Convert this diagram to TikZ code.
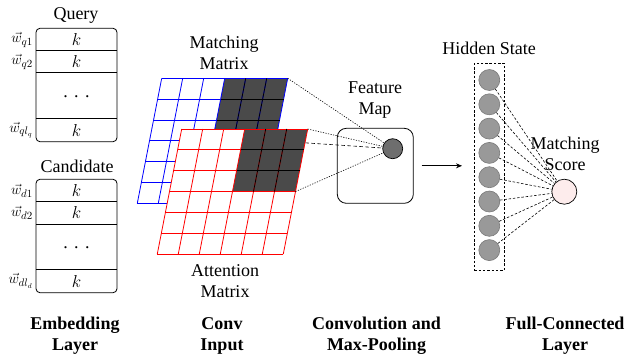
\documentclass[tikz,border=0pt]{standalone}
\usepackage{fontspec}
\setmainfont{Liberation Serif}
\usetikzlibrary{arrows.meta}
\definecolor{darkcell}{HTML}{4A4A4A}
\definecolor{featgray}{HTML}{6E6E6E}
\definecolor{hidgray}{HTML}{999999}
\definecolor{hidedge}{HTML}{7A7A7A}
\definecolor{scorefill}{HTML}{FDECEC}
\newcommand\mygrid[4]{%
  \begin{scope}[shift={(#1,#2)}]
    \fill[white] (0,0) -- (126,0) -- (101.58,125.1) -- (-24.42,125.1) -- cycle;
    \fill[darkcell] (63,0) -- (126,0) -- (113.79,62.55) -- (50.79,62.55) -- cycle;
    \foreach \j in {0,...,6} \draw[gridline,#3] ({-4.07*\j},{20.85*\j}) -- ({126-4.07*\j},{20.85*\j});
    \foreach \i in {0,...,6} \draw[gridline,#3] ({21*\i},0) -- ({21*\i-24.42},125.1);
    \foreach \i in {4,5} \draw[gridline,black] ({21*\i},0) -- ({21*\i-12.21},62.55);
    \foreach \j in {1,2} \draw[gridline,black] ({63-4.07*\j},{20.85*\j}) -- ({126-4.07*\j},{20.85*\j});
    \coordinate (#4TR) at (126,0);
    \coordinate (#4DR) at (113.79,62.55);
  \end{scope}}
\newcommand\widedots{.\hspace{6.5pt}.\hspace{6.5pt}.}
\begin{document}
\begin{tikzpicture}[x=1pt,y=-1pt,
  lbl/.style={font=\fontsize{18}{21}\selectfont, align=center, inner sep=0pt},
  blbl/.style={font=\fontsize{18}{21}\selectfont\bfseries, align=center, inner sep=0pt},
  kcell/.style={font=\fontsize{18}{21}\selectfont, inner sep=0pt},
  wlbl/.style={font=\fontsize{15}{18}\selectfont, inner sep=0pt, anchor=east},
  gridline/.style={line width=0.8pt},
  dotl/.style={line width=0.6pt, dash pattern=on 1.2pt off 1.4pt},
  dashl/.style={line width=0.6pt, dash pattern=on 3.5pt off 2.5pt},
  hid/.style={circle, fill=hidgray, draw=hidedge, line width=0.6pt, minimum size=21pt, inner sep=0pt},
  hdash/.style={line width=0.6pt, dash pattern=on 2.5pt off 1.8pt}]
\useasboundingbox (0,0) rectangle (627,357);

% Embedding layer: query
\node[lbl] (qtitle) at (76,15) {Query};
\draw[line width=0.8pt, rounded corners=4pt] (36,28.3) rectangle (117,141.7);
\draw[line width=0.8pt] (36,50) -- (117,50) (36,72.7) -- (117,72.7) (36,118.3) -- (117,118.3);
\node[kcell] (qk1) at (76.5,39) {$k$};
\node[kcell] (qk2) at (76.5,61.3) {$k$};
\node[kcell] (qdots) at (76.5,97) {\widedots};
\node[kcell] (qk3) at (76.5,130) {$k$};
\node[wlbl] (wq1) at (33,40) {$\vec{w}_{q1}$};
\node[wlbl] (wq2) at (33,62) {$\vec{w}_{q2}$};
\node[wlbl] (wq3) at (33,130) {$\vec{w}_{ql_q}$};

% Embedding layer: candidate
\node[lbl] (ctitle) at (77,166) {Candidate};
\draw[line width=0.8pt, rounded corners=4pt] (36,179.3) rectangle (117,292.7);
\draw[line width=0.8pt] (36,201.7) -- (117,201.7) (36,224) -- (117,224) (36,269) -- (117,269);
\node[kcell] (ck1) at (76.5,190.5) {$k$};
\node[kcell] (ck2) at (76.5,212.8) {$k$};
\node[kcell] (cdots) at (76.5,247.5) {\widedots};
\node[kcell] (ck3) at (76.5,281) {$k$};
\node[wlbl] (wd1) at (33,191) {$\vec{w}_{d1}$};
\node[wlbl] (wd2) at (33,213) {$\vec{w}_{d2}$};
\node[wlbl] (wd3) at (33,281) {$\vec{w}_{dl_d}$};

% Feature map
\node[draw, line width=0.8pt, rounded corners=9pt, minimum width=76pt, minimum height=75pt, inner sep=0pt] (fmap) at (375.3,165.8) {};
\node[circle, fill=featgray, draw=black, line width=0.7pt, minimum size=20pt, inner sep=0pt] (feat) at (392.7,148.7) {};
\node[lbl] (ftitle) at (375,100.5) {Feature\\Map};

% Conv input grids
\node[lbl] (mmtitle) at (224,53) {Matching\\Matrix};
\mygrid{161.7}{78.3}{blue}{b}
\draw[dashl] (bDR) -- (feat);
\draw[dotl] (bTR) -- (feat);
\mygrid{181.7}{129}{red}{r}
\draw[dotl] (rTR) -- (feat);
\draw[dotl] (rDR) -- (feat);
\node[lbl] (amtitle) at (225,281) {Attention\\Matrix};

% Full connected
\node[draw, hdash, minimum width=30pt, minimum height=207pt, inner sep=0pt] (hbox) at (489.3,166.7) {};
\node[lbl] (htitle) at (489,48.3) {Hidden State};
\foreach \i in {1,...,8} \node[hid] (h\i) at (489.3,{80+24.3*(\i-1)}) {};
\node[circle, fill=scorefill, draw=black, line width=0.7pt, minimum size=25pt, inner sep=0pt] (score) at (564.3,191.7) {};
\foreach \i in {1,...,8} \draw[hdash] (h\i) -- (score);
\node[lbl] (stitle) at (565,154) {Matching\\Score};

\draw[line width=0.8pt, -{Stealth[length=6pt,width=5pt]}] ([xshift=8pt]fmap.east) -- ([xshift=-12pt]hbox.west |- fmap.east);

% Bottom labels
\node[blbl] (l1) at (75,336) {Embedding\\Layer};
\node[blbl] (l2) at (222,336) {Conv\\Input};
\node[blbl] (l3) at (376.5,336) {Convolution and\\Max-Pooling};
\node[blbl] (l4) at (565,336) {Full-Connected\\Layer};
\end{tikzpicture}
\end{document}
